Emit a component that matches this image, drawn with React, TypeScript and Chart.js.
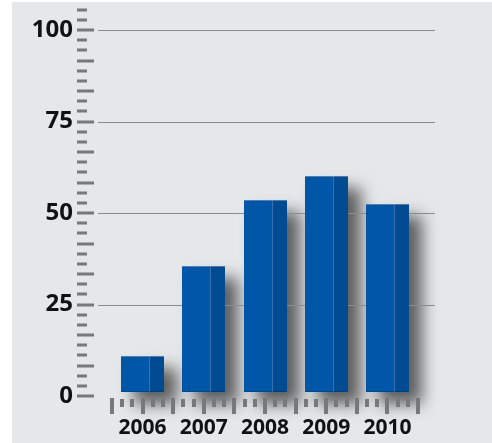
import React, { useEffect, useRef } from "react";
import { Chart, registerables } from "chart.js";

Chart.register(...registerables);

const years = ["2006", "2007", "2008", "2009", "2010"];
const values = [11, 35.5, 53.5, 60, 52.5];
const yTicks = [0, 25, 50, 75, 100];

const FONT = "'Open Sans', 'DejaVu Sans', sans-serif";
const PANEL = "#e6e7e9";
const FRONT = "#0057a7";
const SIDE = "#004b91";
const DASH = "#787878";
const GRID = "#8c8c8c";

// Shared geometry for the faux-3D columns
function barGeom(el: any) {
  const left = el.x - el.width / 2;
  const frontW = Math.round(el.width * 0.65);
  return {
    left: Math.round(left),
    frontW,
    sideW: Math.round(el.width) - frontW,
    top: Math.round(el.y),
    bottom: Math.round(el.base) - 4,
  };
}

const decor = {
  id: "decor",
  beforeDraw(chart: any) {
    const { ctx, width, height } = chart;
    ctx.save();
    ctx.fillStyle = "#ffffff";
    ctx.fillRect(0, 0, width, height);
    ctx.fillStyle = PANEL;
    ctx.fillRect(12, 2, width - 12, height - 2);

    // soft drop shadows behind the columns
    const meta = chart.getDatasetMeta(0);
    meta.data.forEach((el: any) => {
      const g = barGeom(el);
      ctx.save();
      ctx.shadowColor = "rgba(0,0,0,0.6)";
      ctx.shadowBlur = 16;
      ctx.shadowOffsetX = 13;
      ctx.shadowOffsetY = 12;
      ctx.fillStyle = PANEL;
      ctx.fillRect(g.left, g.top, g.frontW + g.sideW, g.bottom - g.top);
      ctx.restore();
    });
    ctx.restore();
  },
  beforeDatasetsDraw(chart: any) {
    const { ctx, scales } = chart;
    const y = scales.y;
    const x = scales.x;
    ctx.save();

    // horizontal grid lines (no line at zero)
    ctx.strokeStyle = GRID;
    ctx.lineWidth = 1;
    yTicks.forEach((v) => {
      if (v === 0) return;
      const py = Math.round(y.getPixelForValue(v)) + 0.5;
      ctx.beginPath();
      ctx.moveTo(98, py);
      ctx.lineTo(435, py);
      ctx.stroke();
    });

    // ruler dashes along the value axis
    ctx.fillStyle = DASH;
    const step = 25 / 9;
    for (let k = 0; k <= 38; k++) {
      const py = Math.round(y.getPixelForValue(k * step));
      const long = k % 3 === 0;
      ctx.fillRect(77, py - 1.5, long ? 17 : 10, 3);
    }

    // ruler dashes along the category axis
    const n = years.length;
    const base = Math.round(y.getPixelForValue(0));
    for (let k = 0; k <= n * 6; k++) {
      const px = Math.round(x.getPixelForValue(-0.5 + k / 6));
      const long = k % 3 === 0;
      if (long) ctx.fillRect(px - 2, base + 2, 4, 16);
      else ctx.fillRect(px - 2, base + 3, 4, 8);
    }
    ctx.restore();
  },
  afterDatasetsDraw(chart: any) {
    const { ctx } = chart;
    const meta = chart.getDatasetMeta(0);
    ctx.save();
    meta.data.forEach((el: any) => {
      const g = barGeom(el);
      const h = g.bottom - g.top;
      ctx.fillStyle = FRONT;
      ctx.fillRect(g.left, g.top, g.frontW, h);
      ctx.fillStyle = SIDE;
      ctx.fillRect(g.left + g.frontW, g.top, g.sideW, h);
      // edge highlights
      ctx.fillStyle = "rgba(120,170,225,0.55)";
      ctx.fillRect(g.left, g.top, g.frontW + g.sideW, 1);
      ctx.fillStyle = "rgba(90,140,200,0.6)";
      ctx.fillRect(g.left + g.frontW, g.top, 1, h);
      ctx.fillStyle = "rgba(0,40,90,0.35)";
      ctx.fillRect(g.left, g.bottom - 1, g.frontW + g.sideW, 1);
    });
    ctx.restore();
  },
};

export default function App() {
  const ref = useRef<HTMLCanvasElement | null>(null);

  useEffect(() => {
    if (!ref.current) return;
    const chart = new Chart(ref.current, {
      type: "bar",
      data: {
        labels: years,
        datasets: [
          {
            data: values,
            backgroundColor: "rgba(0,0,0,0)",
            borderWidth: 0,
            barPercentage: 0.7,
            categoryPercentage: 1,
          },
        ],
      },
      options: {
        responsive: false,
        animation: false,
        devicePixelRatio: 1,
        layout: { padding: { left: 12, right: 74, top: 30, bottom: 0 } },
        plugins: {
          legend: { display: false },
          tooltip: { enabled: false },
        },
        scales: {
          x: {
            offset: true,
            border: { display: false },
            grid: { display: false, drawTicks: false },
            ticks: {
              padding: 19,
              color: "#111111",
              font: { family: FONT, size: 21, weight: "bold" },
            },
            afterFit: (s: any) => {
              s.height = 47;
              s.paddingLeft = 0;
              s.paddingRight = 0;
            },
          },
          y: {
            min: 0,
            max: 100,
            border: { display: false },
            grid: { display: false, drawTicks: false },
            ticks: {
              stepSize: 25,
              padding: 39,
              color: "#111111",
              font: { family: FONT, size: 24, weight: "bold" },
            },
            afterFit: (s: any) => {
              s.width = 100;
              s.paddingTop = 0;
              s.paddingBottom = 0;
            },
          },
        },
      },
      plugins: [decor],
    });
    return () => chart.destroy();
  }, []);

  return (
    <div style={{ position: "absolute", left: 0, top: 0, width: 492, height: 443 }}>
      <canvas ref={ref} width={492} height={443} />
    </div>
  );
}
